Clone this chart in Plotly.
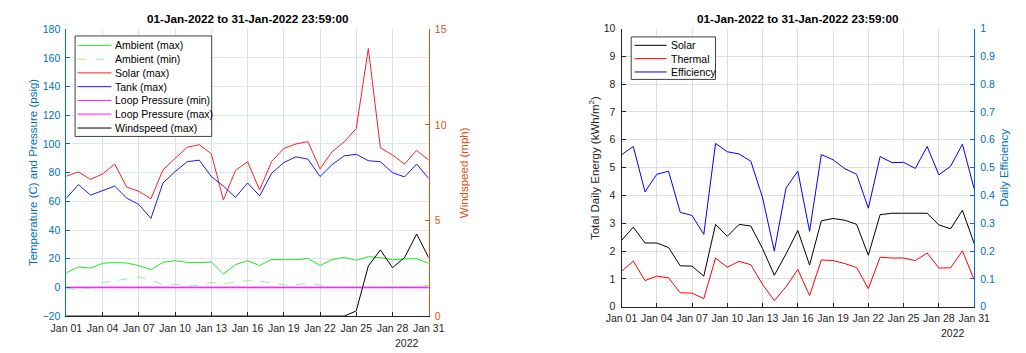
import plotly.graph_objects as go
import pandas as pd

W, H = 1026, 353
dates = pd.date_range("2022-01-01", "2022-01-31", freq="D").strftime("%Y-%m-%d").tolist()

ambient_max = [10.2, 14.3, 13.4, 16.8, 17.3, 17.0, 15.2, 12.3, 17.5, 18.6, 17.5, 17.3, 17.7, 9.3, 15.9, 18.6,
               15.2, 19.5, 19.3, 19.3, 20.2, 15.2, 19.5, 20.9, 18.9, 21.4, 20.7, 19.3, 19.8, 20.0, 16.8]
ambient_min = [-0.9, -1.6, -0.5, 3.4, 4.5, 5.7, 7.3, 5.2, 1.8, 2.0, 1.4, 1.4, 3.4, 2.5, 3.9, 4.8,
               4.5, 3.0, 1.6, 2.0, 2.7, 1.4, 0.2, 0.5, 0.5, 0.5, 0.5, 0.7, 0.7, 0.7, 1.4]
solar_max = [77.5, 80.5, 75.3, 79.1, 86.0, 69.9, 67.0, 61.8, 82.0, 89.9, 97.7, 99.5, 93.2, 60.9, 81.5, 87.6,
             67.9, 87.8, 96.8, 100.0, 101.6, 82.6, 94.6, 101.4, 110.8, 166.5, 97.3, 92.3, 86.0, 95.5, 88.7]
tank_max = [62.2, 71.7, 64.3, 67.4, 70.6, 62.2, 57.8, 48.1, 72.8, 80.7, 87.6, 88.7, 77.3, 70.6, 62.7, 72.8,
            63.8, 79.6, 87.0, 91.0, 89.4, 77.3, 85.6, 91.7, 92.8, 88.3, 87.6, 80.0, 77.0, 86.0, 75.9]
loop_min = [0.0] * 31
loop_max = [0.0] * 31
wind_max = [0.0] * 24 + [0.27, 2.62, 3.46, 2.53, 3.06, 4.29, 3.06]

solar_energy = [2.38, 2.86, 2.29, 2.29, 2.13, 1.47, 1.46, 1.10, 2.96, 2.53, 2.96, 2.90, 2.09, 1.13, 1.90, 2.74,
                1.50, 3.09, 3.17, 3.11, 2.96, 1.85, 3.31, 3.36, 3.36, 3.36, 3.36, 2.94, 2.80, 3.47, 2.27]
thermal_energy = [1.27, 1.64, 0.94, 1.10, 1.04, 0.50, 0.49, 0.29, 1.75, 1.42, 1.63, 1.51, 0.80, 0.22, 0.72, 1.34,
                  0.40, 1.68, 1.66, 1.55, 1.41, 0.65, 1.78, 1.75, 1.75, 1.66, 1.93, 1.39, 1.40, 2.01, 0.97]
efficiency = [0.546, 0.576, 0.413, 0.476, 0.487, 0.339, 0.328, 0.260, 0.587, 0.557, 0.549, 0.523, 0.392, 0.200,
              0.427, 0.487, 0.271, 0.547, 0.528, 0.496, 0.476, 0.354, 0.540, 0.518, 0.519, 0.497, 0.576, 0.474,
              0.505, 0.584, 0.424]

left_names = ["Ambient (max)", "Ambient (min)", "Solar (max)", "Tank (max)",
              "Loop Pressure (min)", "Loop Pressure (max)", "Windspeed (max)"]
right_names = ["Solar", "Thermal", "Efficiency"]

tick_dates = dates[::3]
tick_labels = [pd.Timestamp(d).strftime("%b %d") for d in tick_dates]
year_label = "2022"
title_text = "01-Jan-2022 to 31-Jan-2022 23:59:00"

FONT = "Liberation Sans, Arial, sans-serif"
BLUE_AX = "#0072BD"
ORANGE_AX = "#D95319"
TXT = "#262626"

left_styles = [
    dict(color="#22E622", width=1, dash="solid"),
    dict(color="#90F090", width=1, dash="dash"),
    dict(color="#FF2020", width=1, dash="solid"),
    dict(color="#1A1AFF", width=1, dash="solid"),
    dict(color="#FF1AFF", width=1, dash="solid"),
    dict(color="#FF80FF", width=2, dash="solid"),
    dict(color="#000000", width=1, dash="solid"),
]
right_styles = [
    dict(color="#000000", width=1, dash="solid"),
    dict(color="#FF0000", width=1, dash="solid"),
    dict(color="#0000FF", width=1, dash="solid"),
]

fig = go.Figure()

def add(y, name, style, xa, ya):
    fig.add_trace(go.Scatter(x=dates, y=y, name=name, mode="lines", xaxis=xa, yaxis=ya,
                             showlegend=False, line=style))

left_series = [ambient_max, ambient_min, solar_max, tank_max, loop_min, loop_max, wind_max]
left_axes = ["y", "y", "y", "y", "y", "y", "y2"]
draw_order = [5, 0, 1, 2, 3, 4, 6]  # loop max beneath loop min
for i in draw_order:
    add(left_series[i], left_names[i], left_styles[i], "x", left_axes[i])

right_series = [solar_energy, thermal_energy, efficiency]
right_axes = ["y3", "y3", "y4"]
for i in range(3):
    add(right_series[i], right_names[i], right_styles[i], "x2", right_axes[i])

def px_x(p):
    return p / W

def px_y(p):
    return 1 - p / H

L_X0, L_X1, L_Y0, L_Y1 = 52, 426, 321, 24
R_X0, R_X1, R_Y0, R_Y1 = 625, 989, 311.3, 23.3

xcommon = dict(type="date", range=[dates[0], dates[-1]], tickvals=tick_dates, ticktext=tick_labels,
               showgrid=True, gridcolor="#DFDFDF", gridwidth=1, ticks="inside", ticklen=4, tickcolor=TXT,
               showline=True, linecolor=TXT, linewidth=1, tickfont=dict(family=FONT, size=10.5, color=TXT),
               zeroline=False, mirror=False, ticklabelstandoff=2)

ycommon = dict(ticks="inside", ticklen=4, showline=True, linewidth=1, zeroline=False, ticklabelstandoff=3)

fig.update_layout(
    width=W, height=H, margin=dict(l=0, r=0, t=0, b=0),
    paper_bgcolor="white", plot_bgcolor="white",
    font=dict(family=FONT, size=10.5, color=TXT),
    showlegend=False,
    xaxis=dict(domain=[px_x(L_X0), px_x(L_X1)], anchor="y", **xcommon),
    yaxis=dict(domain=[px_y(L_Y0), px_y(L_Y1)], anchor="x", range=[-20, 180], dtick=20,
               showgrid=True, gridcolor="#DCE8F3", tickcolor=BLUE_AX, linecolor=BLUE_AX,
               tickfont=dict(family=FONT, size=10.5, color=BLUE_AX), **ycommon),
    yaxis2=dict(overlaying="y", side="right", anchor="x", range=[0, 15], tickvals=[0, 5, 10, 15],
                showgrid=False, tickcolor=ORANGE_AX, linecolor=ORANGE_AX,
                tickfont=dict(family=FONT, size=10.5, color=ORANGE_AX), **ycommon),
    xaxis2=dict(domain=[px_x(R_X0), px_x(R_X1)], anchor="y3", **xcommon),
    yaxis3=dict(domain=[px_y(R_Y0), px_y(R_Y1)], anchor="x2", range=[0, 10], dtick=1,
                showgrid=True, gridcolor="#DFDFDF", tickcolor=TXT, linecolor=TXT,
                tickfont=dict(family=FONT, size=10.5, color=TXT), **ycommon),
    yaxis4=dict(overlaying="y3", side="right", anchor="x2", range=[0, 1], dtick=0.1,
                showgrid=False, tickcolor=BLUE_AX, linecolor=BLUE_AX,
                tickfont=dict(family=FONT, size=10.5, color=BLUE_AX), **ycommon),
)

ann = [
    dict(text="<b>" + title_text + "</b>", x=px_x((L_X0 + L_X1) / 2), y=px_y(13), font=dict(size=11.7, color="#000000")),
    dict(text="<b>" + title_text + "</b>", x=px_x((R_X0 + R_X1) / 2), y=px_y(13), font=dict(size=11.7, color="#000000")),
    dict(text="Temperature (C) and Pressure (psig)", x=px_x(17), y=px_y((L_Y0 + L_Y1) / 2), textangle=-90,
         font=dict(size=11.5, color=BLUE_AX)),
    dict(text="Windspeed (mph)", x=px_x(462), y=px_y((L_Y0 + L_Y1) / 2), textangle=-90,
         font=dict(size=11.5, color=ORANGE_AX)),
    dict(text="Total Daily Energy (kWh/m<sup>2</sup>)", x=px_x(596), y=px_y((R_Y0 + R_Y1) / 2), textangle=-90,
         font=dict(size=11.5, color=TXT)),
    dict(text="Daily Efficiency", x=px_x(1019), y=px_y((R_Y0 + R_Y1) / 2), textangle=-90,
         font=dict(size=11.5, color=BLUE_AX)),
    dict(text=year_label, x=px_x(404), y=px_y(349), font=dict(size=10.5, color=TXT)),
    dict(text=year_label, x=px_x(967), y=px_y(339), font=dict(size=10.5, color=TXT)),
]
for a in ann:
    a.update(xanchor="center")

shapes = []

def build_legend(names, styles, box, first_y, step, line_x0, line_x1, text_x):
    x0, y0, x1, y1 = box
    shapes.append(dict(type="rect", xref="paper", yref="paper", x0=px_x(x0), x1=px_x(x1),
                       y0=px_y(y1), y1=px_y(y0), line=dict(color="#404040", width=1), fillcolor="white",
                       layer="above"))
    for i, (n, s) in enumerate(zip(names, styles)):
        yc = first_y + step * i
        shapes.append(dict(type="line", xref="paper", yref="paper", x0=px_x(line_x0), x1=px_x(line_x1),
                           y0=px_y(yc), y1=px_y(yc), line=s, layer="above"))
        ann.append(dict(text=n, x=px_x(text_x), y=px_y(yc), xanchor="left",
                        font=dict(size=10.5, color="#000000")))

build_legend(left_names, left_styles, (61, 31, 202, 135), 40.7, 14.27, 63.5, 98.5, 100.5)
build_legend(right_names, right_styles, (635, 32, 722, 76), 40.7, 13.8, 638.5, 671.5, 674)

for a in ann:
    a.update(xref="paper", yref="paper", showarrow=False, yanchor="middle")
    a["font"]["family"] = FONT

fig.update_layout(annotations=ann, shapes=shapes)

fig.write_html("out.html",
               post_script="document.body.style.margin='0';document.body.style.padding='0';"
                           "document.documentElement.style.overflow='hidden';")
